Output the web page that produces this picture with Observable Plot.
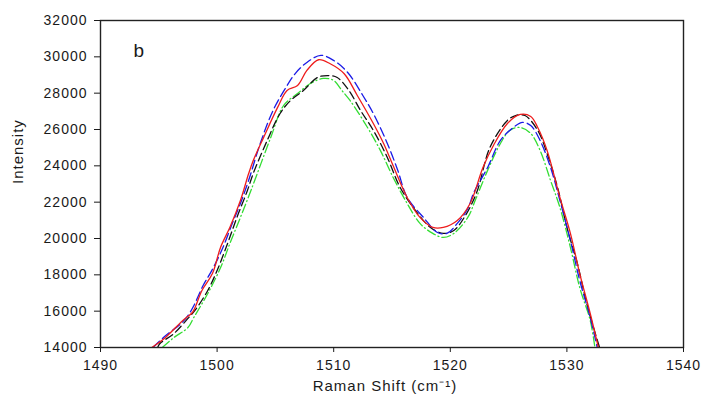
<!DOCTYPE html>
<html>
<head>
<meta charset="utf-8">
<script src="https://cdn.jsdelivr.net/npm/d3@7"></script>
<script src="https://cdn.jsdelivr.net/npm/@observablehq/plot@0.6"></script>
<style>
  html, body { margin: 0; padding: 0; background: #fff; }
  svg text { letter-spacing: 1px; }
</style>
</head>
<body>
<div id="chart"></div>
<script>
// X axis ticks and Y axis ticks
const xTicks = [1490, 1500, 1510, 1520, 1530, 1540];
const yTicks = [14000, 16000, 18000, 20000, 22000, 24000, 26000, 28000, 30000, 32000];

// Red (solid)
const redShift = [1494.4, 1495.6, 1496.9, 1497.4, 1497.9, 1498.7, 1499.6, 1500.3, 1501.1, 1502.0, 1502.7, 1503.1, 1504.0, 1505.2, 1506.0, 1506.9, 1507.7, 1508.7, 1509.7, 1510.9, 1512.0, 1513.4, 1514.3, 1515.1, 1516.3, 1517.4, 1518.5, 1519.4, 1520.6, 1521.7, 1522.8, 1523.7, 1524.9, 1526.0, 1526.9, 1527.5, 1528.3, 1529.4, 1530.3, 1531.1, 1532.0, 1532.7];
const redInt   = [14000, 14570, 15390, 15670, 15940, 17140, 18070, 19520, 20620, 22090, 23560, 24290, 25580, 27230, 28150, 28420, 29250, 29840, 29620, 29070, 27900, 26330, 25200, 24000, 22260, 21160, 20610, 20610, 20990, 21930, 23910, 25120, 26330, 26830, 26720, 26110, 24850, 22260, 20280, 18070, 15870, 14000];

// Blue (dashed)
const blueShift = [1494.5, 1495.6, 1496.9, 1497.5, 1498.0, 1498.8, 1499.6, 1500.5, 1501.3, 1502.0, 1502.7, 1503.7, 1504.8, 1505.9, 1506.7, 1507.7, 1508.9, 1510.0, 1511.2, 1512.5, 1513.4, 1514.6, 1515.5, 1516.3, 1517.7, 1518.9, 1519.7, 1520.6, 1521.5, 1522.0, 1523.2, 1524.3, 1525.4, 1526.2, 1526.9, 1527.7, 1528.6, 1529.4, 1530.3, 1531.1, 1532.0, 1532.6];
const blueInt   = [14000, 14660, 15320, 15760, 16300, 17410, 18300, 19500, 20830, 21930, 23190, 25230, 27050, 28310, 29080, 29690, 30080, 29800, 29140, 27870, 26880, 25230, 23740, 22260, 21160, 20330, 20280, 20830, 21650, 22500, 23910, 25400, 26110, 26390, 26220, 25400, 23910, 22090, 19890, 17690, 15650, 14000];

// Black (dashed)
const blackShift = [1494.9, 1495.1, 1496.3, 1497.5, 1498.1, 1499.2, 1500.0, 1500.9, 1501.7, 1502.6, 1503.1, 1504.3, 1505.4, 1506.3, 1507.4, 1508.6, 1509.5, 1510.3, 1511.3, 1512.3, 1513.4, 1514.6, 1515.7, 1517.2, 1518.3, 1519.4, 1520.3, 1521.3, 1522.3, 1523.4, 1524.9, 1525.6, 1526.4, 1527.5, 1528.3, 1529.2, 1530.0, 1530.9, 1531.7, 1532.8];
const blackInt   = [14000, 14220, 14770, 15600, 16040, 17140, 18240, 19730, 21160, 22640, 23580, 25400, 26880, 27600, 28150, 28860, 28970, 28860, 28150, 27050, 25950, 24460, 22810, 21380, 20610, 20280, 20440, 21270, 22600, 25010, 26500, 26770, 26770, 25950, 24680, 22810, 20610, 18620, 16420, 14000];

// Green (dash-dot)
const greenShift = [1495.3, 1496.3, 1497.5, 1498.0, 1499.2, 1500.3, 1501.1, 1502.0, 1502.9, 1504.6, 1505.7, 1506.9, 1508.0, 1509.1, 1510.0, 1510.7, 1511.4, 1512.9, 1514.0, 1515.1, 1516.3, 1517.4, 1518.5, 1519.4, 1520.3, 1521.5, 1522.2, 1523.2, 1524.3, 1525.1, 1526.0, 1526.9, 1527.7, 1528.6, 1529.4, 1530.3, 1531.1, 1532.0, 1532.4];
const greenInt   = [14000, 14550, 15100, 15650, 16970, 18400, 19730, 21160, 22640, 25560, 27320, 27980, 28530, 28810, 28700, 28150, 27600, 26110, 24850, 23360, 21930, 20830, 20280, 20060, 20280, 21160, 22200, 23750, 25230, 25950, 26110, 25780, 24850, 23190, 21710, 19510, 17300, 15490, 14000];

const toRows = (xs, ys) => xs.map((x, i) => ({x, y: ys[i]}));

const lineOpts = {x: "x", y: "y", curve: "catmull-rom", strokeWidth: 1.3, clip: true};

const chart = Plot.plot({
  width: 702,
  height: 398,
  marginLeft: 100,
  marginRight: 19,
  marginTop: 20,
  marginBottom: 51,
  style: {fontFamily: "'Liberation Sans', Arial, sans-serif", fontSize: "14px", color: "#1a1a1a", background: "#fff"},
  x: {domain: [1490, 1540]},
  y: {domain: [14000, 32000]},
  marks: [
    Plot.line(toRows(greenShift, greenInt), {...lineOpts, stroke: "#33dd33", strokeDasharray: "9,3,1,3"}),
    Plot.line(toRows(blackShift, blackInt), {...lineOpts, stroke: "#111", strokeDasharray: "8,4"}),
    Plot.line(toRows(blueShift, blueInt), {...lineOpts, stroke: "#1a1ae6", strokeDasharray: "9,4"}),
    Plot.line(toRows(redShift, redInt), {...lineOpts, stroke: "#ee1c1c"}),
    Plot.frame({stroke: "#222", strokeWidth: 1.4}),
    Plot.axisY({ticks: yTicks, tickSize: 6, tickPadding: 7, tickFormat: d3.format("d"), label: null, fontSize: 14}),
    Plot.axisX({ticks: xTicks, tickSize: 5, tickPadding: 8, tickFormat: d3.format("d"), label: null, fontSize: 14}),
    Plot.text(["Intensity"], {text: d => d, frameAnchor: "left", rotate: -90, dx: -82, fontSize: 15}),
    Plot.text(["Raman Shift (cm\u207B\u00B9)"], {text: d => d, frameAnchor: "bottom", dy: 43, dx: -7, fontSize: 15}),
    Plot.text(["b"], {text: d => d, frameAnchor: "top-left", dx: 33, dy: 23, fontSize: 19})
  ]
});
document.getElementById("chart").appendChild(chart);
</script>
</body>
</html>
